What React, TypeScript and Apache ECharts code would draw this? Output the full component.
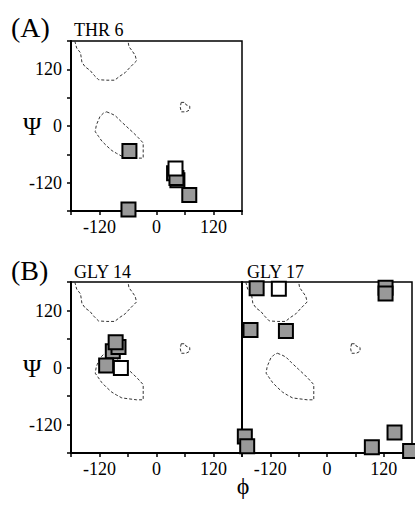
import React, { useEffect, useRef } from "react";
import * as echarts from "echarts";

// Tick values shown as labels
const tickLabels = [-120, 0, 120];

// Ramachandran allowed-region outlines (phi, psi)
const betaRegion = [
  [-172, 180], [-168, 165], [-160, 155], [-157, 135], [-150, 125], [-140, 118],
  [-132, 108], [-122, 98], [-105, 97], [-88, 97], [-78, 105], [-66, 113],
  [-55, 125], [-42, 138], [-45, 150], [-52, 160], [-58, 168], [-60, 180],
];
const alphaRegion = [
  [-105, 30], [-95, 26], [-87, 22], [-75, 10], [-60, -4], [-48, -15], [-39, -24],
  [-28, -36], [-28, -68], [-42, -68], [-58, -66], [-73, -64], [-84, -58],
  [-94, -52], [-105, -42], [-115, -32], [-122, -22], [-129, -12], [-127, 0],
  [-125, 6], [-119, 20], [-112, 27], [-105, 30],
];
const leftRegion = [
  [52, 50], [60, 50], [62, 45], [70, 42], [70, 34], [62, 30], [52, 30], [50, 40], [52, 50],
];

// Panel data: (phi, psi)
const thr6Grey = [[-57, -53], [-59, -177], [37, -100], [44, -115], [42, -110], [69, -146]];
const thr6White = [[40, -90]];
const gly14Grey = [[-92, 34], [-80, 43], [-86, 53], [-106, 4]];
const gly14White = [[-75, -1]];
const gly17Grey = [
  [-149, 167], [-162, 79], [-87, 77], [124, 168], [124, 156], [143, -137],
  [95, -168], [176, -176], [-174, -145], [-169, -166],
];
const gly17White = [[-102, 166]];

const FONT = "'Liberation Serif', 'Times New Roman', 'DejaVu Serif', serif";

export default function App() {
  const ref = useRef<HTMLDivElement>(null);
  useEffect(() => {
    if (!ref.current) return;
    const chart = echarts.init(ref.current, undefined, { renderer: "svg" });
    const grids = [
      { left: 71, top: 41, width: 171, height: 170 },
      { left: 71, top: 282, width: 171, height: 171 },
      { left: 242, top: 282, width: 171, height: 171 },
    ];
    const labelFmt = (v: number) => (tickLabels.includes(v) ? String(v) : "");
    const xAxes = grids.map((_, i) => ({
      type: "value",
      gridIndex: i,
      min: -180,
      max: 180,
      interval: 60,
      splitLine: { show: false },
      axisLine: { show: true, onZero: false, lineStyle: { color: "#000", width: 2 } },
      axisTick: { show: true, length: 4, lineStyle: { color: "#000", width: 1.5 } },
      axisLabel: {
        show: true,
        formatter: labelFmt,
        color: "#000",
        fontFamily: FONT,
        fontSize: 18,
        margin: 7,
        showMinLabel: true,
        showMaxLabel: true,
      },
    }));
    const yAxes = grids.map((_, i) => ({
      type: "value",
      gridIndex: i,
      min: -180,
      max: 180,
      interval: 60,
      splitLine: { show: false },
      axisLine: { show: true, onZero: false, lineStyle: { color: "#000", width: 2 } },
      axisTick: { show: i !== 2, length: 4, lineStyle: { color: "#000", width: 1.5 } },
      axisLabel: {
        show: i !== 2,
        formatter: labelFmt,
        color: "#000",
        fontFamily: FONT,
        fontSize: 18,
        margin: 9,
      },
    }));
    const panels = [
      { grey: thr6Grey, white: thr6White },
      { grey: gly14Grey, white: gly14White },
      { grey: gly17Grey, white: gly17White },
    ];
    const series: any[] = [];
    panels.forEach((p, i) => {
      [betaRegion, alphaRegion, leftRegion].forEach((reg) => {
        series.push({
          type: "line",
          xAxisIndex: i,
          yAxisIndex: i,
          data: reg,
          symbol: "none",
          silent: true,
          z: 1,
          lineStyle: { color: "#333", width: 1, type: [3, 2] },
        });
      });
      series.push({
        type: "scatter",
        xAxisIndex: i,
        yAxisIndex: i,
        data: p.grey,
        symbol: "rect",
        symbolSize: 14,
        clip: false,
        z: 3,
        itemStyle: { color: "#999", borderColor: "#000", borderWidth: 2, opacity: 1 },
      });
      series.push({
        type: "scatter",
        xAxisIndex: i,
        yAxisIndex: i,
        data: p.white,
        symbol: "rect",
        symbolSize: 14,
        clip: false,
        z: 4,
        itemStyle: { color: "#fff", borderColor: "#000", borderWidth: 2, opacity: 1 },
      });
    });
    const txt = (text: string, x: number, y: number, size: number, align = "left") => ({
      type: "text",
      x,
      y,
      style: {
        text,
        font: `${size}px ${FONT}`,
        fill: "#000",
        textAlign: align,
        textVerticalAlign: "middle",
      },
    });
    chart.setOption({
      animation: false,
      grid: grids.map((g) => ({ ...g, show: true, borderColor: "#000", borderWidth: 1.5, backgroundColor: "transparent" })),
      xAxis: xAxes,
      yAxis: yAxes,
      series,
      graphic: [
        txt("(A)", 11, 27, 28),
        txt("THR 6", 74, 30, 18),
        txt("(B)", 11, 270, 28),
        txt("GLY 14", 74, 272, 18),
        txt("GLY 17", 247, 272, 18),
        txt("Ψ", 23, 126, 25),
        txt("Ψ", 23, 368, 25),
        txt("ϕ", 243, 486, 24, "center"),
      ],
    });
    return () => chart.dispose();
  }, []);
  return (
    <div
      ref={ref}
      style={{ position: "fixed", left: 0, top: 0, width: 415, height: 511, background: "#fff" }}
    />
  );
}
